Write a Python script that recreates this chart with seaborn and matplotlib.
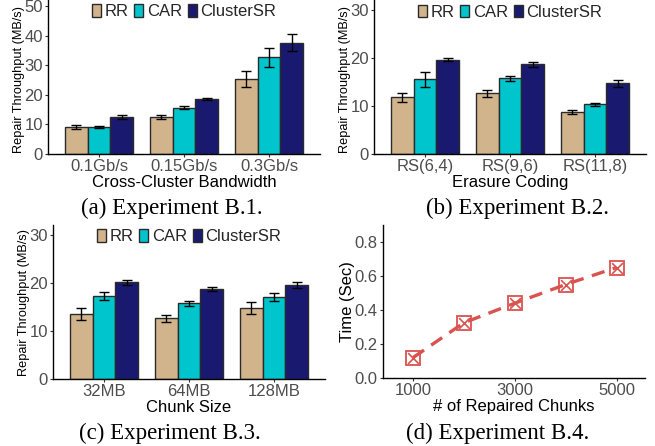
import matplotlib
matplotlib.use("Agg")
import matplotlib.pyplot as plt
import seaborn as sns
import pandas as pd
import numpy as np

sns.set_theme(style="white")
plt.rcParams['font.family'] = ['Liberation Sans', 'DejaVu Sans']

methods = ["RR", "CAR", "ClusterSR"]
colors = ["#D2B48C", "#00C5CD", "#191970"]

# (a) Experiment B.1
bw_labels = ["0.1Gb/s", "0.15Gb/s", "0.3Gb/s"]
bw_rr = [9.2, 12.6, 25.3]
bw_car = [9.2, 15.7, 32.7]
bw_cs = [12.5, 18.6, 37.6]
bw_rr_err = [0.6, 0.7, 2.8]
bw_car_err = [0.3, 0.5, 3.2]
bw_cs_err = [0.7, 0.4, 2.9]

# (b) Experiment B.2
ec_labels = ["RS(6,4)", "RS(9,6)", "RS(11,8)"]
ec_rr = [11.8, 12.6, 8.7]
ec_car = [15.5, 15.7, 10.3]
ec_cs = [19.6, 18.6, 14.7]
ec_rr_err = [0.9, 0.7, 0.35]
ec_car_err = [1.6, 0.6, 0.4]
ec_cs_err = [0.35, 0.5, 0.7]

# (c) Experiment B.3
cs_labels = ["32MB", "64MB", "128MB"]
cs_rr = [13.5, 12.6, 14.8]
cs_car = [17.2, 15.7, 17.1]
cs_cs = [20.1, 18.7, 19.6]
cs_rr_err = [1.3, 0.7, 1.2]
cs_car_err = [0.8, 0.6, 0.8]
cs_cs_err = [0.5, 0.5, 0.6]

# (d) Experiment B.4
chunks = [1000, 2000, 3000, 4000, 5000]
times = [0.12, 0.325, 0.44, 0.55, 0.65]

W, H = 655, 446
fig = plt.figure(figsize=(W / 100, H / 100), dpi=100)


def rect(x0, x1, ytop, ybot):
    return [x0 / W, 1 - ybot / H, (x1 - x0) / W, (ybot - ytop) / H]


TICK_FS = 12
LAB_FS = 12
YLAB_FS = 9.2
GRAY = "#4D4D4D"


def style(ax):
    sns.despine(ax=ax)
    for s in ["left", "bottom"]:
        ax.spines[s].set_color("black")
        ax.spines[s].set_linewidth(1.0)
    ax.tick_params(axis="both", which="major", length=2.5, width=0.8,
                   color="#333333", labelcolor=GRAY, labelsize=TICK_FS, pad=1.2,
                   left=True, bottom=True)
    ax.grid(False)


def bars(ax, labels, rr, car, cs, rr_e, car_e, cs_e, xlabel, ymax, yticks, legend_y):
    df = pd.DataFrame({
        "cat": labels * 3,
        "method": [m for m in methods for _ in labels],
        "val": list(rr) + list(car) + list(cs),
    })
    errs = [rr_e, car_e, cs_e]
    sns.barplot(data=df, x="cat", y="val", hue="method", order=labels,
                hue_order=methods, palette=colors, saturation=1, errorbar=None,
                width=0.8, edgecolor="#2a2a2a", linewidth=1.0, ax=ax, legend=True)
    for cont, e in zip(ax.containers, errs):
        xs = [p.get_x() + p.get_width() / 2 for p in cont.patches]
        ys = [p.get_height() for p in cont.patches]
        ax.errorbar(xs, ys, yerr=e, fmt="none", ecolor="black",
                    elinewidth=1.0, capsize=3.5, capthick=1.0, zorder=5)
    ax.set_xlim(-0.6, 2.6)
    ax.set_ylim(0, ymax)
    ax.set_yticks(yticks)
    ax.set_xlabel(xlabel, fontsize=LAB_FS, labelpad=0.3, color="black")
    ax.set_ylabel("Repair Throughput (MB/s)", fontsize=YLAB_FS, color="black")
    ax.yaxis.set_label_coords(-0.086, 0.485)
    style(ax)
    ax.legend(loc="center", bbox_to_anchor=(0.5, legend_y), ncol=3, frameon=False,
              fontsize=LAB_FS, handlelength=0.55, handleheight=0.8,
              handletextpad=0.2, columnspacing=0.35, borderpad=0, borderaxespad=0)


axa = fig.add_axes(rect(48, 320, 0, 154))
bars(axa, bw_labels, bw_rr, bw_car, bw_cs, bw_rr_err, bw_car_err, bw_cs_err,
     "Cross-Cluster Bandwidth", 52, [0, 10, 20, 30, 40, 50], 0.925)

axb = fig.add_axes(rect(374, 646, 0, 154))
bars(axb, ec_labels, ec_rr, ec_car, ec_cs, ec_rr_err, ec_car_err, ec_cs_err,
     "Erasure Coding", 32, [0, 10, 20, 30], 0.92)

axc = fig.add_axes(rect(53, 325, 225, 379))
bars(axc, cs_labels, cs_rr, cs_car, cs_cs, cs_rr_err, cs_car_err, cs_cs_err,
     "Chunk Size", 32, [0, 10, 20, 30], 0.925)
axc.yaxis.set_label_coords(-0.086, 0.5)

axd = fig.add_axes(rect(383, 645, 225, 378))
red = "#D9534F"
dfd = pd.DataFrame({"chunks": chunks, "time": times})
sns.lineplot(data=dfd, x="chunks", y="time", color=red, linewidth=2.4,
             linestyle=(0, (4, 2.6)), marker="s", markersize=9.5,
             markerfacecolor="none", markeredgecolor=red, markeredgewidth=1.3,
             ax=axd)
sns.scatterplot(data=dfd, x="chunks", y="time", marker="x", color=red, s=60,
                linewidth=1.2, ax=axd, zorder=4)
axd.set_xlim(410, 5560)
axd.set_ylim(0, 0.9)
axd.set_xticks([1000, 3000, 5000])
axd.set_yticks([0.0, 0.2, 0.4, 0.6, 0.8])
axd.set_yticklabels(["0.0", "0.2", "0.4", "0.6", "0.8"])
axd.set_xlabel("# of Repaired Chunks", fontsize=LAB_FS, labelpad=0.3, color="black")
axd.set_ylabel("Time (Sec)", fontsize=LAB_FS, color="black")
axd.yaxis.set_label_coords(-0.105, 0.5)
style(axd)

cap_kw = dict(fontsize=16.5, family=["Liberation Serif", "DejaVu Serif"],
              ha="center", va="center", color="black")
fig.text(172 / W, 1 - 208 / H, "(a) Experiment B.1.", **cap_kw)
fig.text(517 / W, 1 - 208 / H, "(b) Experiment B.2.", **cap_kw)
fig.text(170 / W, 1 - 433 / H, "(c) Experiment B.3.", **cap_kw)
fig.text(498 / W, 1 - 433 / H, "(d) Experiment B.4.", **cap_kw)

fig.savefig("out.png", dpi=100)
